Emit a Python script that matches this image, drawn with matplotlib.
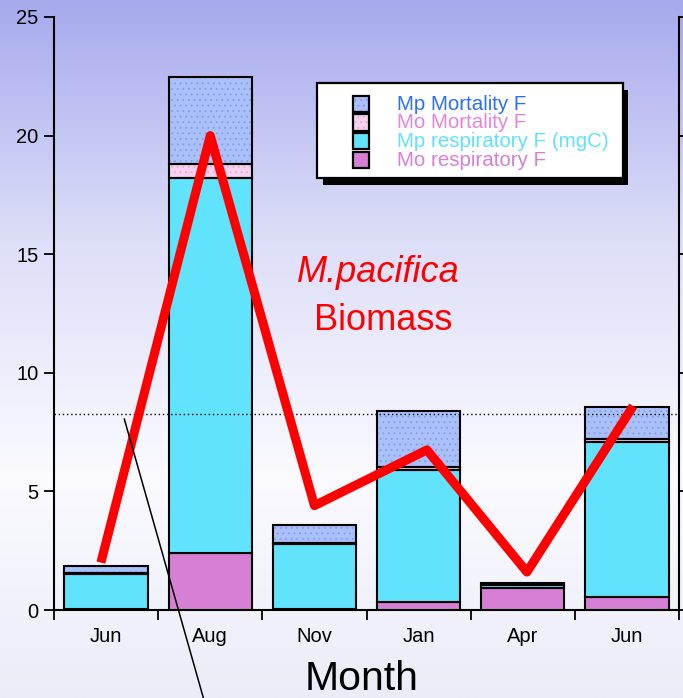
import matplotlib
matplotlib.use("Agg")
import matplotlib.pyplot as plt
import numpy as np
from matplotlib.patches import Rectangle

plt.rcParams['font.family'] = ['Liberation Sans', 'DejaVu Sans']
plt.rcParams['hatch.linewidth'] = 0.6

months = ["Jun", "Aug", "Nov", "Jan", "Apr", "Jun"]

# stacked flux components (bottom to top)
mo_resp = [0.05, 2.40, 0.05, 0.35, 0.92, 0.56]
mp_resp = [1.45, 15.83, 2.72, 5.55, 0.14, 6.51]
mo_mort = [0.05, 0.56, 0.05, 0.14, 0.01, 0.14]
mp_mort = [0.30, 3.67, 0.76, 2.36, 0.05, 1.34]

# M. pacifica biomass line (x in category units)
biomass_x = [-0.05, 1.0, 2.0, 3.08, 4.04, 5.06]
biomass = [2.0, 20.0, 4.4, 6.75, 1.6, 8.6]

ref_level = 8.26

W, H = 683, 698
fig = plt.figure(figsize=(W / 100, H / 100), dpi=100)

# background gradient
bg = fig.add_axes([0, 0, 1, 1], zorder=0)
rows = np.linspace(0, 1, 300)
stops = [0.0, 0.35, 0.68, 1.0]
cols = np.array([[166, 170, 237], [222, 223, 248], [250, 250, 255], [236, 236, 248]]) / 255
grad = np.stack([np.interp(rows, stops, cols[:, i]) for i in range(3)], axis=-1)
bg.imshow(grad[:, None, :], aspect='auto', extent=[0, 1, 0, 1])
bg.set_axis_off()

ax = fig.add_axes([54 / W, 1 - 610 / H, (679 - 54) / W, (610 - 17) / H], zorder=1)
ax.patch.set_visible(False)

x = np.arange(len(months))
width = 0.8
segments = [
    (mo_resp, "#d77fd4", None, None),
    (mp_resp, "#61e3fd", None, None),
    (mo_mort, "#f6d2ef", "...", "#e8a6de"),
    (mp_mort, "#aac0f8", "...", "#7f9ef0"),
]
bottom = np.zeros(len(months))
for vals, color, hatch, hcol in segments:
    vals = np.array(vals)
    if hatch:
        ax.bar(x, vals, width, bottom=bottom, color=color, hatch=hatch,
               edgecolor=hcol, linewidth=0, zorder=2)
        ax.bar(x, vals, width, bottom=bottom, fill=False,
               edgecolor='black', linewidth=1.5, zorder=3)
    else:
        ax.bar(x, vals, width, bottom=bottom, color=color,
               edgecolor='black', linewidth=1.5, zorder=3)
    bottom += vals

ax.axhline(ref_level, color='black', linestyle=(0, (1, 2)), linewidth=1.0, zorder=4)

ax.plot(biomass_x, biomass, color='#ff0000', linewidth=6.5, solid_joinstyle='round',
        solid_capstyle='butt', zorder=5)

# pointer line running off the bottom
ax.plot([0.175, 0.94], [8.05, -3.8], color='black', linewidth=1.1, zorder=6, clip_on=False)

ax.text(2.61, 13.83, "M.pacifica", color='#ff0000', fontsize=26, style='italic',
        ha='center', va='baseline', zorder=6)
ax.text(2.66, 11.80, "Biomass", color='#ff0000', fontsize=26,
        ha='center', va='baseline', zorder=6)

ax.set_xlim(-0.5, 5.5)
ax.set_ylim(0, 25)
ax.set_yticks([0, 5, 10, 15, 20, 25])
ax.set_xticks(np.arange(-0.5, 6.0, 1.0))
ax.set_xticklabels([])
ax.set_xticks(x, minor=True)
ax.set_xticklabels(months, minor=True)

for side in ['left', 'right', 'bottom']:
    ax.spines[side].set_linewidth(1.5)
ax.spines['top'].set_visible(False)
ax.tick_params(axis='y', which='major', direction='out', length=7, width=1.3,
               labelsize=14.5, pad=4, right=True)
ax.tick_params(axis='x', which='major', direction='out', length=7, width=1.3)
ax.tick_params(axis='x', which='minor', length=0, labelsize=14.5, pad=12)

fig.text(362 / W, 1 - 690 / H, "Month", fontsize=29.5, ha='center', va='baseline')

# legend box with hard shadow
def fx(px):
    return px / W

def fy(py):
    return 1 - py / H

fig.patches.append(Rectangle((fx(323), fy(185)), fx(628) - fx(323), fy(90) - fy(185),
                             transform=fig.transFigure, facecolor='black',
                             edgecolor='none', zorder=7))
fig.patches.append(Rectangle((fx(317), fy(178)), fx(623) - fx(317), fy(83) - fy(178),
                             transform=fig.transFigure, facecolor='white',
                             edgecolor='black', linewidth=1.6, zorder=8))

legend_items = [
    ("Mp Mortality F", "#aac0f8", "...", "#7f9ef0", "#2b6ff2"),
    ("Mo Mortality F", "#f6d2ef", "...", "#e8a6de", "#e385dc"),
    ("Mp respiratory F (mgC)", "#61e3fd", None, None, "#5fe2fb"),
    ("Mo respiratory F", "#d77fd4", None, None, "#d87ed5"),
]
row_tops = [96, 114.5, 133, 152]
for (label, fc, hatch, hcol, tcol), top in zip(legend_items, row_tops):
    if hatch:
        fig.patches.append(Rectangle((fx(353), fy(top + 16)), fx(369) - fx(353),
                                     fy(top) - fy(top + 16), transform=fig.transFigure,
                                     facecolor=fc, hatch=hatch, edgecolor=hcol,
                                     linewidth=0, zorder=9))
        fig.patches.append(Rectangle((fx(353), fy(top + 16)), fx(369) - fx(353),
                                     fy(top) - fy(top + 16), transform=fig.transFigure,
                                     fill=False, edgecolor='black', linewidth=1.6, zorder=10))
    else:
        fig.patches.append(Rectangle((fx(353), fy(top + 16)), fx(369) - fx(353),
                                     fy(top) - fy(top + 16), transform=fig.transFigure,
                                     facecolor=fc, edgecolor='black', linewidth=1.6,
                                     zorder=10))
    fig.text(fx(397), fy(top + 14), label, color=tcol, fontsize=14.8,
             ha='left', va='baseline', zorder=11)

fig.savefig("out.png", dpi=100)
